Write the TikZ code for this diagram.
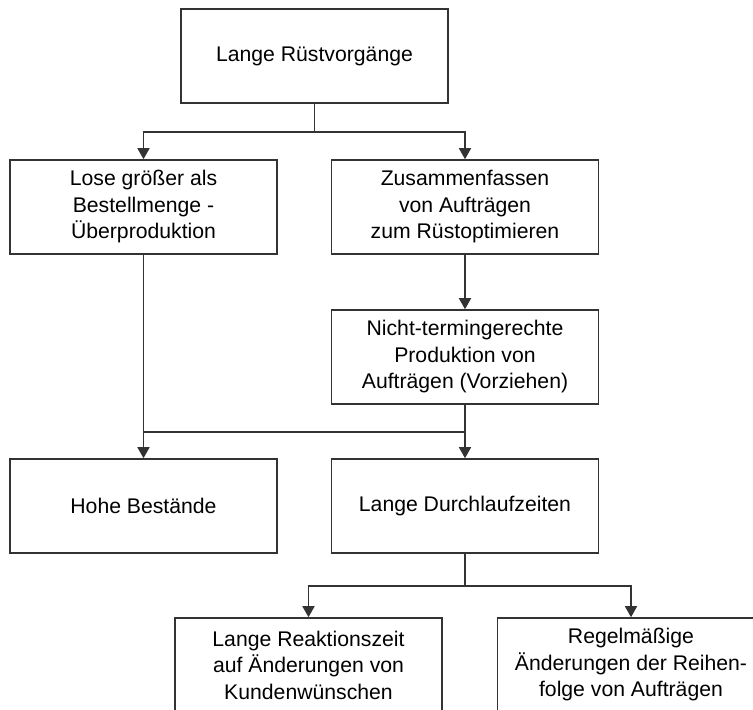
\documentclass[tikz,border=0pt]{standalone}
\usepackage{fontspec}
\setmainfont{Liberation Sans}
\usetikzlibrary{arrows.meta}
\definecolor{linec}{RGB}{51,51,51}
\begin{document}
\begin{tikzpicture}[x=1pt,y=-1pt,
  box/.style={draw=linec,line width=1.6pt,minimum width=267pt,minimum height=94pt,
    align=center,inner sep=2pt,font=\fontsize{21.2}{26.5}\selectfont,text=black},
  conn/.style={draw=linec,line width=1.6pt},
  arr/.style={conn,-{Triangle[length=11pt,width=12pt]}}]
\useasboundingbox (0,0) rectangle (753,710);
\clip (0,0) rectangle (753,710);
\node[box] (b1) at (314.5,56) {Lange Rüstvorgänge};
\node[box] (b2) at (143.5,207) {Lose größer als\\Bestellmenge -\\Überproduktion};
\node[box] (b3) at (465,207) {Zusammenfassen\\von Aufträgen\\zum Rüstoptimieren};
\node[box] (b4) at (465,357) {Nicht-termingerechte\\Produktion von\\Aufträgen (Vorziehen)};
\node[box] (b5) at (143.5,506) {Hohe Bestände};
\node[box] (b6) at (465,506) {Lange Durchlaufzeiten};
\node[box] (b7) at (308.5,665) {Lange Reaktionszeit\\auf Änderungen von\\Kundenwünschen};
\node[box] (b8) at (631,665) {Regelmäßige\\Änderungen der Reihen-\\folge von Aufträgen};
\coordinate (h1) at (0,132);
\coordinate (h2) at (0,432);
\coordinate (h3) at (0,586);
\draw[conn] (b1.south) -- (b1.south |- h1);
\draw[arr] (b1.south |- h1) -| (b2.north);
\draw[arr] (b1.south |- h1) -| (b3.north);
\draw[arr] (b2.south) -- (b5.north);
\draw[arr] (b3.south) -- (b4.north);
\draw[arr] (b4.south) -- (b6.north);
\draw[conn] (b2.south |- h2) -- (b4.south |- h2);
\draw[conn] (b6.south) -- (b6.south |- h3);
\draw[arr] (b6.south |- h3) -| (b7.north);
\draw[arr] (b6.south |- h3) -| (b8.north);
\end{tikzpicture}
\end{document}
